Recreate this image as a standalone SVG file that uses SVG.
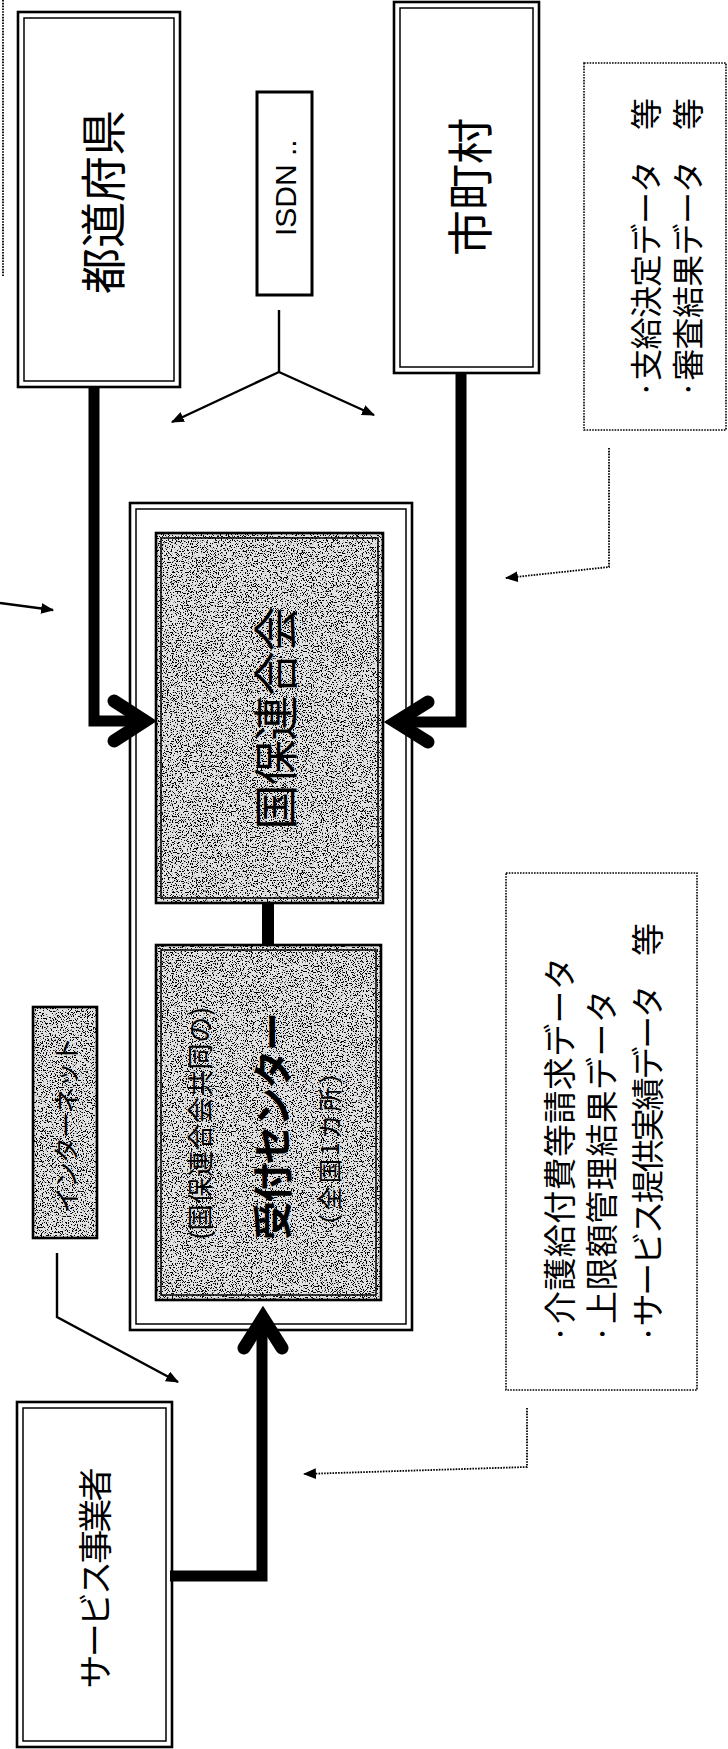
<svg xmlns="http://www.w3.org/2000/svg" width="728" height="1749" viewBox="0 0 728 1749">
<defs>
<style>
.bg{fill:#fff}
.o{fill:none;stroke:#000;stroke-width:2.6}
.i{fill:none;stroke:#000;stroke-width:1.5}
.box{fill:#fff;stroke:#000;stroke-width:3}
.dash{fill:#fff;stroke:#000;stroke-width:1.6;stroke-dasharray:1.6 1.2}
.dl{fill:none;stroke:#000;stroke-width:1.8;stroke-dasharray:1.6 1.2}
.thin{fill:none;stroke:#000;stroke-width:2.4}
.shaft{fill:none;stroke:#000;stroke-width:11;stroke-linejoin:miter}
.chev{fill:none;stroke:#000;stroke-width:13;stroke-linecap:round;stroke-linejoin:miter;stroke-miterlimit:10}
.jp{font-family:"Noto Sans CJK JP","Noto Sans",sans-serif;fill:#000;dominant-baseline:central}
.en{font-family:"Liberation Sans",Arial,sans-serif;fill:#000;dominant-baseline:central}
</style>
<filter id="grain" x="0" y="0" width="1" height="1">
<feFlood flood-color="#e2e2e2" result="bg"/>
<feTurbulence type="fractalNoise" baseFrequency="0.8" numOctaves="2" seed="7" result="n"/>
<feColorMatrix in="n" type="matrix" values="0 0 0 0 0  0 0 0 0 0  0 0 0 0 0  -20 0 0 0 8.9" result="d"/>
<feMerge result="m"><feMergeNode in="bg"/><feMergeNode in="d"/></feMerge>
<feComposite in="m" in2="SourceGraphic" operator="in"/>
</filter>
<marker id="ah" viewBox="0 0 12 10" refX="11" refY="5" markerWidth="13" markerHeight="11" markerUnits="userSpaceOnUse" orient="auto">
<path d="M0 0 L12 5 L0 10 Z" fill="#000"/>
</marker>
</defs>
<rect class="bg" x="0" y="0" width="728" height="1749"/>

<g id="connectors">
<line class="dl" x1="3" y1="0" x2="3" y2="277"/>
<line class="thin" x1="0" y1="603" x2="53" y2="610" stroke-width="1.8" marker-end="url(#ah)"/>
<polyline class="thin" points="279,310 279,372"/>
<line class="thin" x1="279" y1="372" x2="172" y2="422" marker-end="url(#ah)"/>
<line class="thin" x1="279" y1="372" x2="374" y2="415" marker-end="url(#ah)"/>
<path class="shaft" d="M94 387 V721 H146"/>
<path class="chev" d="M114 701 L145 721 L114 741"/>
<path class="shaft" d="M461 373 V722 H397"/>
<path class="chev" d="M428 702 L396 722 L428 742"/>
<line x1="268" y1="903" x2="268" y2="945" stroke="#000" stroke-width="12"/>
<path class="shaft" d="M170 1576 H262 V1320"/>
<path class="chev" d="M244 1348 L263 1318 L282 1348"/>
<polyline class="dl" points="609,448 609,567 506,578" marker-end="url(#ah)"/>
<polyline class="dl" points="527,1408 527,1467 304,1474" marker-end="url(#ah)"/>
<polyline class="thin" points="57,1253 57,1317 178,1382" marker-end="url(#ah)"/>
</g>

<g id="node-prefecture">
<rect class="o" x="18" y="12" width="162" height="375"/>
<rect class="i" x="24" y="18" width="150" height="363"/>
<text class="jp" font-size="46" text-anchor="middle" transform="translate(100,202) rotate(-90)">都道府県</text>
</g>

<g id="node-isdn">
<rect class="box" x="257" y="92" width="55" height="203"/>
<text class="en" font-size="30" text-anchor="start" transform="translate(285,236) rotate(-90)">ISDN ..</text>
</g>

<g id="node-municipality">
<rect class="o" x="394" y="2" width="145" height="371"/>
<rect class="i" x="400" y="8" width="133" height="359"/>
<text class="jp" font-size="46" text-anchor="middle" transform="translate(467,187) rotate(-90)">市町村</text>
</g>

<g id="node-note-upper">
<rect class="dash" x="584" y="63" width="142" height="367"/>
<text class="jp" font-size="32" text-anchor="start" textLength="300" lengthAdjust="spacing" transform="translate(644,398) rotate(-90)">·支給決定データ　等</text>
<text class="jp" font-size="32" text-anchor="start" textLength="300" lengthAdjust="spacing" transform="translate(686,398) rotate(-90)">·審査結果データ　等</text>
</g>

<g id="node-container">
<rect class="o" x="130" y="503" width="282" height="827"/>
<rect class="i" x="136" y="509" width="270" height="815"/>
</g>

<g id="node-kokuho">
<rect x="156" y="533" width="227" height="370" fill="#fff" filter="url(#grain)"/>
<rect class="o" x="156" y="533" width="227" height="370"/>
<rect class="i" x="161" y="538" width="217" height="360"/>
<text class="jp" font-size="45" text-anchor="middle" textLength="223" lengthAdjust="spacing" transform="translate(273,718) rotate(-90)">国保連合会</text>
</g>

<g id="node-reception">
<rect x="156" y="945" width="225" height="355" fill="#fff" filter="url(#grain)"/>
<rect class="o" x="156" y="945" width="225" height="355"/>
<rect class="i" x="161" y="950" width="215" height="345"/>
<text class="jp" font-size="26" text-anchor="start" textLength="233" lengthAdjust="spacing" transform="translate(198,1240) rotate(-90)">(国保連合会共同の)</text>
<text class="jp" font-size="39" font-weight="bold" text-anchor="start" textLength="228" lengthAdjust="spacing" transform="translate(270,1240) rotate(-90)">受付センター</text>
<text class="jp" font-size="24" text-anchor="start" textLength="178" lengthAdjust="spacing" transform="translate(328,1238) rotate(-90)">（全国1カ所）</text>
</g>

<g id="node-internet">
<rect x="33" y="1007" width="64" height="231" fill="#fff" filter="url(#grain)"/>
<rect class="o" x="33" y="1007" width="64" height="231" stroke-width="3"/>
<text class="jp" font-size="26" text-anchor="middle" textLength="176" lengthAdjust="spacing" transform="translate(64,1125) rotate(-90)">インターネット</text>
</g>

<g id="node-note-lower">
<rect class="dash" x="506" y="873" width="191" height="517"/>
<text class="jp" font-size="33" text-anchor="start" textLength="386" lengthAdjust="spacing" transform="translate(558,1343) rotate(-90)">·介護給付費等請求データ</text>
<text class="jp" font-size="33" text-anchor="start" textLength="353" lengthAdjust="spacing" transform="translate(600,1343) rotate(-90)">·上限額管理結果データ</text>
<text class="jp" font-size="33" text-anchor="start" textLength="420" lengthAdjust="spacing" transform="translate(646,1343) rotate(-90)">·サービス提供実績データ　等</text>
</g>

<g id="node-provider">
<rect class="o" x="17" y="1402" width="155" height="345"/>
<rect class="i" x="23" y="1408" width="143" height="333"/>
<text class="jp" font-size="34" text-anchor="middle" textLength="221" lengthAdjust="spacing" transform="translate(93,1578) rotate(-90)">サービス事業者</text>
</g>
</svg>
